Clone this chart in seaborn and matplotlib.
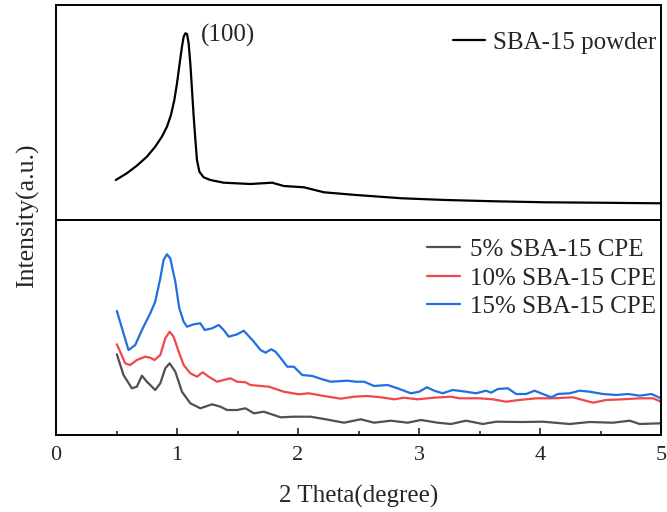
import numpy as np
import pandas as pd
import matplotlib
matplotlib.use("Agg")
import matplotlib.pyplot as plt
import seaborn as sns

# SBA-15 powder pattern (2θ, intensity in arbitrary units)
powder_x = [0.494, 0.585, 0.668, 0.751, 0.820, 0.875, 0.917, 0.950, 0.978, 1.0,
            1.022, 1.041, 1.055, 1.069, 1.083, 1.096, 1.110, 1.124, 1.138, 1.152,
            1.165, 1.185, 1.220, 1.276, 1.386, 1.607, 1.787, 1.883, 2.049, 2.215,
            2.48, 2.86, 3.22, 3.63, 4.05, 4.46, 5.0]
powder_y = [40, 46.7, 54.3, 63.3, 73.3, 83.3, 93.3, 105, 120, 136.7,
            156.7, 173.3, 183.3, 186.7, 186, 176.7, 156.7, 130, 103.3, 80,
            60, 48.3, 42.7, 40, 37.3, 36, 37.3, 34, 32.7, 27.7,
            25, 21.7, 20, 18.7, 17.7, 17.3, 16.7]

# Composite polymer electrolytes
cpe5_x = [0.503, 0.558, 0.627, 0.668, 0.71, 0.751, 0.82, 0.862, 0.903, 0.939,
          0.986, 1.041, 1.11, 1.193, 1.29, 1.359, 1.414, 1.497, 1.566, 1.635,
          1.718, 1.856, 1.966, 2.104, 2.229, 2.38, 2.519, 2.629, 2.767, 2.906,
          3.016, 3.154, 3.264, 3.389, 3.527, 3.637, 3.858, 4.024, 4.245, 4.41,
          4.604, 4.741, 4.824, 5.0]
cpe5_y = [80.7, 60, 46.7, 48.3, 59.3, 53.3, 45, 51.7, 66.7, 71.7,
          63.3, 43.3, 31.7, 26.7, 30.7, 28.3, 25, 25, 26.7, 21.7,
          23.3, 17.7, 18.3, 18.3, 15.7, 12.3, 15.7, 12.3, 14.3, 12.3,
          15, 12.3, 11, 14.3, 11, 13.3, 13, 13.3, 11, 13,
          12.3, 14.3, 11, 11.7]

cpe10_x = [0.503, 0.572, 0.613, 0.668, 0.737, 0.779, 0.815, 0.862, 0.903, 0.939,
           0.972, 1.014, 1.055, 1.11, 1.166, 1.212, 1.262, 1.331, 1.386, 1.442,
           1.497, 1.566, 1.607, 1.759, 1.883, 2.007, 2.09, 2.215, 2.353, 2.463,
           2.574, 2.684, 2.795, 2.877, 2.988, 3.126, 3.264, 3.333, 3.499, 3.61,
           3.72, 3.83, 3.969, 4.107, 4.273, 4.438, 4.548, 4.687, 4.824, 4.935, 5.0]
cpe10_y = [90.7, 71.7, 70, 75, 78.3, 77.3, 75, 80, 96.7, 103.3,
           98.3, 83.3, 70, 61.7, 58.3, 62.7, 58.3, 53.3, 55, 56.7,
           53.3, 52.7, 50, 48.3, 43.3, 40.7, 41.7, 39, 36.3, 38.3,
           39, 37.7, 35.7, 37.3, 35.7, 37.3, 38.3, 36.7, 36.7, 35.7,
           33.3, 35, 36.7, 36.7, 37.7, 32.3, 35, 35.7, 36.7, 36.7, 33.3]

cpe15_x = [0.503, 0.599, 0.655, 0.71, 0.779, 0.82, 0.862, 0.889, 0.917, 0.944,
           0.986, 1.019, 1.055, 1.083, 1.138, 1.193, 1.229, 1.29, 1.345, 1.386,
           1.428, 1.497, 1.552, 1.635, 1.69, 1.732, 1.779, 1.814, 1.87, 1.911,
           1.966, 2.035, 2.118, 2.201, 2.27, 2.408, 2.477, 2.546, 2.629, 2.74,
           2.823, 2.933, 3.002, 3.065, 3.126, 3.196, 3.278, 3.389, 3.471, 3.554,
           3.596, 3.651, 3.734, 3.803, 3.886, 3.955, 4.024, 4.093, 4.148, 4.245,
           4.327, 4.41, 4.521, 4.631, 4.728, 4.824, 4.921, 5.0]
cpe15_y = [124, 85, 90, 105, 121.7, 133.3, 156.7, 175, 180.7, 176.7,
           153.3, 126.7, 113.3, 108.3, 110.7, 111.7, 105, 106.7, 110, 105,
           98.3, 100.7, 104.3, 93.3, 85, 82.3, 85.7, 83.3, 75, 68.3,
           68.3, 60, 59, 55.7, 53.3, 54.3, 53.3, 53.3, 49, 50,
           46.7, 41.7, 43.3, 47.7, 44.3, 41.7, 45, 43.3, 41.7, 44.3,
           42.3, 46, 46.7, 41, 41, 44.3, 41, 37.7, 41, 41.7,
           44.3, 43.3, 41, 40, 41, 39.3, 41, 36.7]

cpe_labels = ["5% SBA-15 CPE", "10% SBA-15 CPE", "15% SBA-15 CPE"]
cpe_colors = ["#505050", "#f0474b", "#1f6fe0"]

sns.set_style("white")
plt.rcParams["font.family"] = ["Liberation Serif", "DejaVu Serif"]

powder_df = pd.DataFrame({"two_theta": powder_x, "intensity": powder_y,
                          "sample": "SBA-15 powder"})
cpe_df = pd.concat([
    pd.DataFrame({"two_theta": xs, "intensity": ys, "sample": lab})
    for xs, ys, lab in zip([cpe5_x, cpe10_x, cpe15_x],
                           [cpe5_y, cpe10_y, cpe15_y], cpe_labels)
], ignore_index=True)

W, H = 667, 512
fig = plt.figure(figsize=(W / 100, H / 100), dpi=100)
left, right = 56 / W, 661 / W
ax_top = fig.add_axes([left, 1 - 220 / H, right - left, 215 / H])
ax_bot = fig.add_axes([left, 1 - 435 / H, right - left, 215 / H])

sns.lineplot(data=powder_df, x="two_theta", y="intensity", hue="sample",
             palette=["black"], estimator=None, sort=False, lw=1.6, ax=ax_top)
sns.lineplot(data=cpe_df, x="two_theta", y="intensity", hue="sample",
             hue_order=cpe_labels, palette=cpe_colors, estimator=None,
             sort=False, lw=1.6, ax=ax_bot)

for ax in (ax_top, ax_bot):
    ax.set_xlim(0, 5)
    ax.set_ylim(0, 215)
    ax.set_yticks([])
    ax.set_ylabel("")
    ax.set_xlabel("")
    for sp in ax.spines.values():
        sp.set_visible(True)
        sp.set_color("black")
        sp.set_linewidth(1.4)

ax_top.tick_params(axis="x", which="both", bottom=False, labelbottom=False)

ax_bot.set_xticks([0, 1, 2, 3, 4, 5])
ax_bot.set_xticks(np.arange(0.5, 5, 1.0), minor=True)
ax_bot.tick_params(axis="x", which="major", direction="in", length=5, width=1.2,
                   labelsize=16, pad=8, bottom=True)
ax_bot.tick_params(axis="x", which="minor", direction="in", length=3, width=1.2,
                   bottom=True)
ax_bot.set_xlabel("2 Theta(degree)", fontsize=18, labelpad=14)

ax_top.text(1.2, 185, "(100)", fontsize=18, ha="left", va="center")

ax_top.legend(loc="upper right", frameon=False, fontsize=18, handlelength=1.3,
              handletextpad=0.3, borderaxespad=0.0, bbox_to_anchor=(1.008, 0.925),
              title=None)
ax_bot.legend(loc="upper right", frameon=False, fontsize=18, handlelength=1.3,
              handletextpad=0.4, labelspacing=0.24, borderaxespad=0.0,
              bbox_to_anchor=(1.008, 0.96), title=None)

fig.text(27 / W, 1 - 216 / H, "Intensity(a.u.)", rotation=90, fontsize=18.5,
         ha="center", va="center")

fig.savefig("out.png", dpi=100)
